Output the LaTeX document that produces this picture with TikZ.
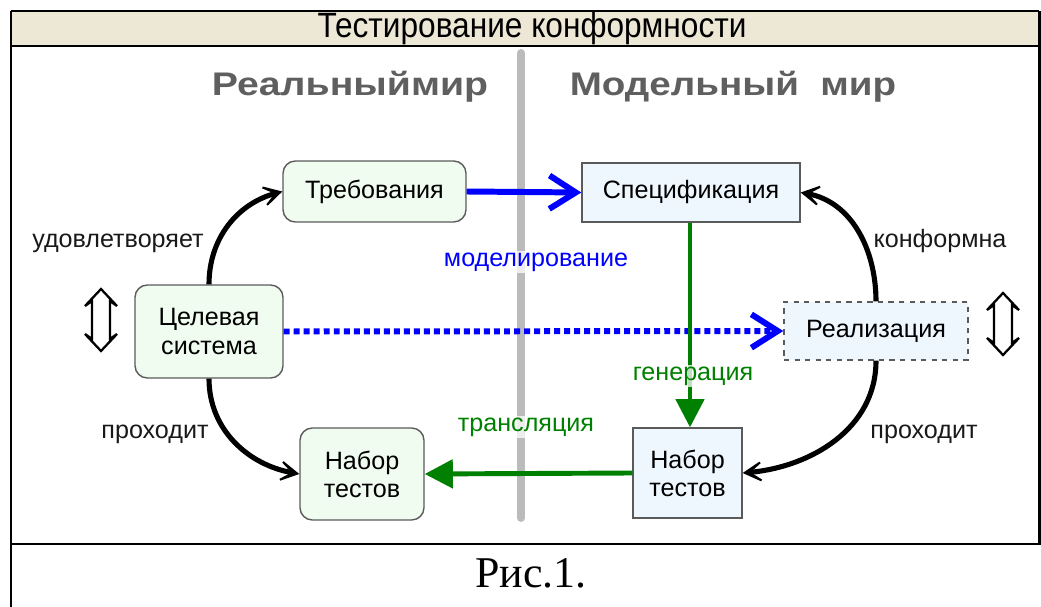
\documentclass[tikz,border=0pt]{standalone}
\usepackage{fontspec}
\setmainfont{Liberation Sans}
\newfontfamily\capfont{Liberation Serif}
\usetikzlibrary{arrows.meta,positioning}

\definecolor{headbg}{RGB}{237,231,214}
\definecolor{realfill}{RGB}{240,252,240}
\definecolor{modelfill}{RGB}{238,246,254}
\definecolor{boxline}{RGB}{90,90,90}
\definecolor{titlegray}{RGB}{95,95,95}
\definecolor{divgray}{RGB}{187,187,187}
\definecolor{gengreen}{RGB}{0,128,0}
\definecolor{modblue}{RGB}{0,0,255}

\newcommand{\lblfont}{\fontsize{14.3}{16}\selectfont}

\tikzset{
  realbox/.style={draw=boxline, fill=realfill, rounded corners=7pt, line width=0.8pt,
    align=center, font=\lblfont, inner sep=0pt},
  modelbox/.style={draw=boxline, fill=modelfill, line width=0.8pt,
    align=center, font=\lblfont, inner sep=0pt},
  lbl/.style={font=\lblfont, text=black!90, inner sep=1pt},
  veil/.style={fill=white, fill opacity=0.75, text opacity=1, inner sep=1pt},
  relarrow/.style={line width=2.9pt, -{Stealth[length=17pt,width=19pt,inset=12.5pt]}},
  modarrow/.style={modblue, line width=3.4pt, -{Straight Barb[length=15pt,width=19pt]}},
  genarrow/.style={gengreen, -{Triangle[length=16pt,width=16pt]}},
  updown/.pic={
    \draw[line width=1.3pt, line join=miter]
      (0,-31) -- (-16,-14) -- (-9,-19) -- (-9,19) -- (-16,14) -- (0,31)
      -- (16,14) -- (9,19) -- (9,-19) -- (16,-14) -- cycle;
  }
}

\begin{document}
\begin{tikzpicture}[x=0.02cm, y=-0.02cm]
  \useasboundingbox (0,0) rectangle (1041,607);

  % table frame
  \fill[headbg] (11,11) rectangle (1039,46);
  \draw[line width=1.6pt] (11,11) -- (1039,11);
  \draw[line width=1.4pt] (11,46) -- (1039,46);
  \draw[line width=1.6pt] (11,11) -- (11,607);
  \draw[line width=1.6pt] (1039.5,11) -- (1039.5,544);
  \draw[line width=1.6pt] (11,544) -- (1041,544);
  \node (head) at (532,28) {\fontsize{20}{22}\selectfont\scalebox{0.9}[1]{Тестирование конформности}};
  \node (cap) at (531,573) {\capfont\fontsize{25}{28}\selectfont Рис.1.};

  % divider
  \draw[divgray, line width=4.5pt, line cap=round] (521,53) -- (521,518);

  \node[text=titlegray, font=\fontsize{18.6}{20}\selectfont\bfseries] (realw) at (350,87) {\scalebox{1.2}[1]{Реальныймир}};
  \node[text=titlegray, font=\fontsize{18.6}{20}\selectfont\bfseries] (modw) at (733,87) {\scalebox{1.18}[1]{Модельный\ \ мир}};

  % boxes
  \node[realbox, minimum width=3.66cm, minimum height=1.22cm] (treb) at (374.5,191.5) {Требования};
  \node[realbox, minimum width=2.96cm, minimum height=1.86cm] (tsel) at (209,331.5) {Целевая\\система};
  \node[realbox, minimum width=2.48cm, minimum height=1.84cm] (nabr) at (362,474) {Набор\\тестов};
  \node[modelbox, minimum width=4.36cm, minimum height=1.18cm] (spec) at (691,192.5) {Спецификация};
  \node[modelbox, dashed, minimum width=3.68cm, minimum height=1.16cm] (impl) at (876,331) {Реализация};
  \node[modelbox, minimum width=2.18cm, minimum height=1.80cm] (nabm) at (687.5,473) {Набор\\тестов};

  % relations
  \draw[relarrow] (tsel.north) to[out=90, in=195] (treb.west);
  \draw[relarrow] (tsel.south) to[out=-90, in=170] (nabr.west);
  \draw[relarrow] (impl.north) to[out=90, in=-10] (spec.east);
  \draw[relarrow] (impl.south) to[out=-90, in=5] (nabm.east);

  \draw[modarrow] (treb.east) -- (spec.west);
  \draw[modarrow, dash pattern=on 3.4pt off 2.3pt] (tsel.east) -- (impl.west);
  \draw[genarrow, line width=2.3pt] (spec.south -| 690,0) -- (nabm.north -| 690,0);
  \draw[genarrow, line width=2.8pt] (nabm.west) -- (nabr.east);

  % labels
  \node[lbl] (sat) at (118,243) {удовлетворяет};
  \node[lbl] (pasr) at (155,434) {проходит};
  \node[lbl] (conf) at (940,241) {конформна};
  \node[lbl] (pasm) at (924,434) {проходит};
  \node[lbl, veil, text=modblue] (model) at (536,262) {моделирование};
  \node[lbl, veil, text=gengreen] (gener) at (693,376) {генерация};
  \node[lbl, veil, text=gengreen] (trans) at (526,427) {трансляция};

  \pic at (101,320) {updown};
  \pic at (1003,324) {updown};
\end{tikzpicture}
\end{document}
